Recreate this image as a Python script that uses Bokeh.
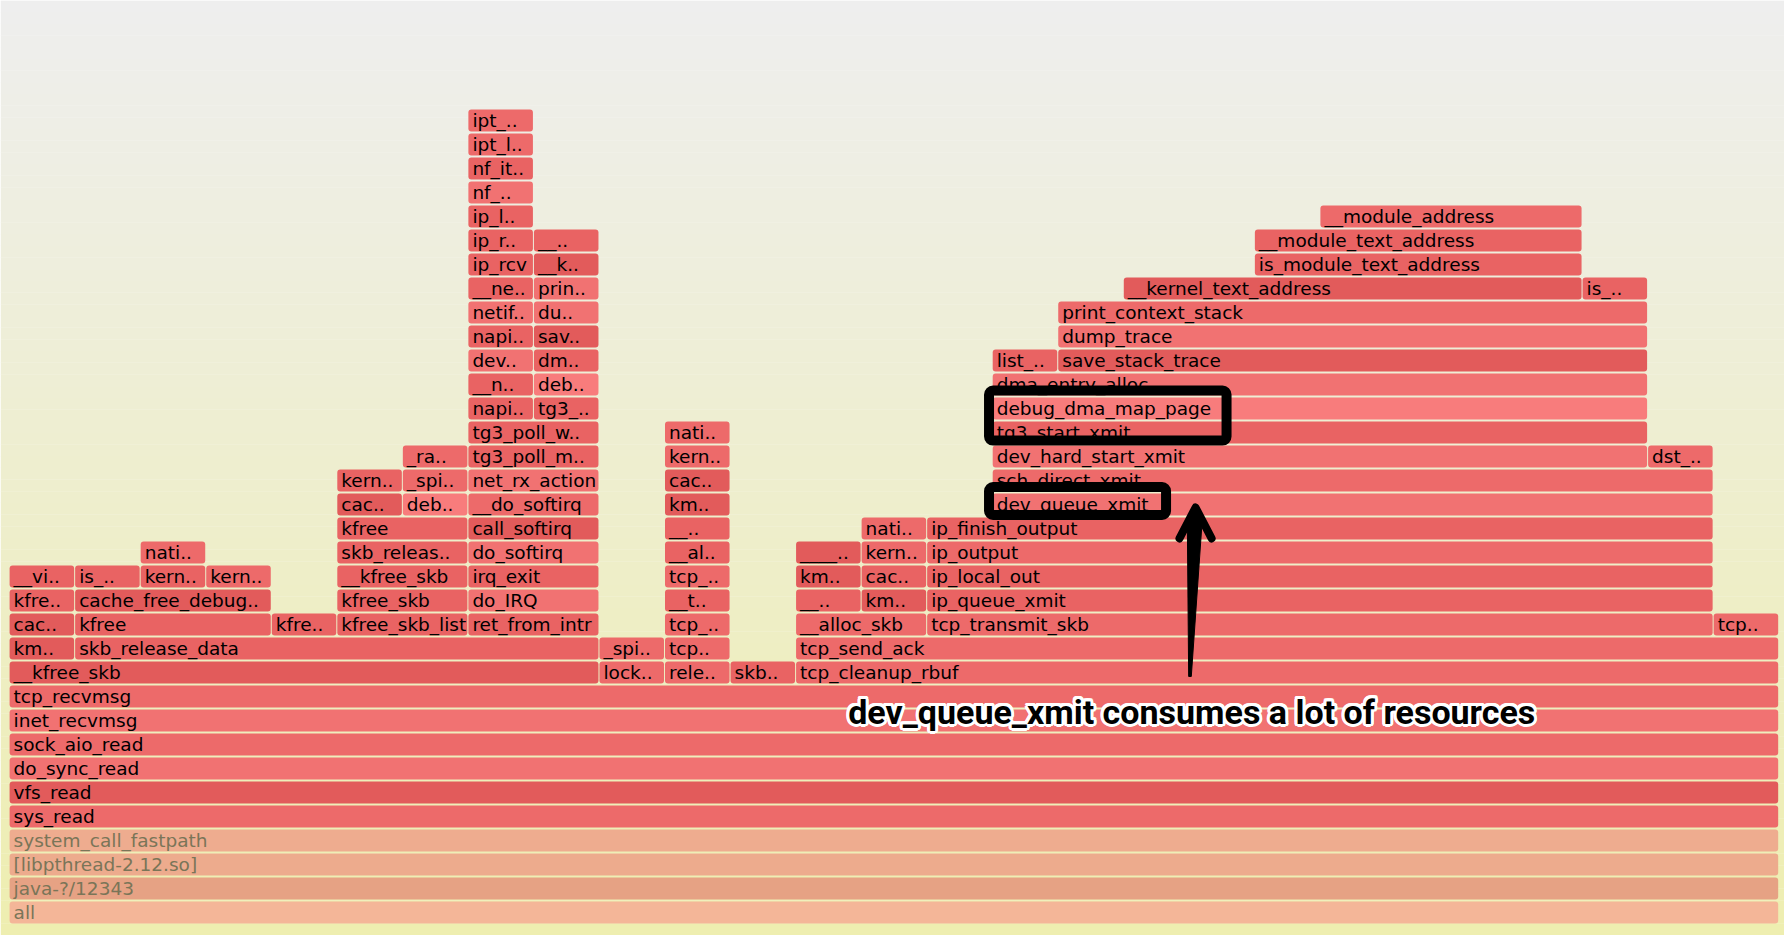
import numpy as np
from bokeh.core.properties import value
from bokeh.embed import file_html
from bokeh.models import ColumnDataSource, Range1d
from bokeh.plotting import figure
from bokeh.resources import INLINE

# flame graph frames: name, stack depth, first sample, number of samples
frame_name = [
    "all", "java-?/12343", "[libpthread-2.12.so]", "system_call_fastpath",
    "sys_read", "vfs_read", "do_sync_read", "sock_aio_read", "inet_recvmsg", "tcp_recvmsg",
    "__kfree_skb", "lock..", "rele..", "skb..", "tcp_cleanup_rbuf",
    "km..", "skb_release_data", "_spi..", "tcp..", "tcp_send_ack",
    "cac..", "kfree", "kfre..", "kfree_skb_list", "ret_from_intr", "tcp_..", "__alloc_skb", "tcp_transmit_skb", "tcp..",
    "kfre..", "cache_free_debug..", "kfree_skb", "do_IRQ", "__t..", "__..", "km..", "ip_queue_xmit",
    "__vi..", "is_..", "kern..", "kern..", "__kfree_skb", "irq_exit", "tcp_..", "km..", "cac..", "ip_local_out",
    "nati..", "skb_releas..", "do_softirq", "__al..", "____..", "kern..", "ip_output",
    "kfree", "call_softirq", "__..", "nati..", "ip_finish_output",
    "cac..", "deb..", "__do_softirq", "km..", "dev_queue_xmit",
    "kern..", "_spi..", "net_rx_action", "cac..", "sch_direct_xmit",
    "_ra..", "tg3_poll_m..", "kern..", "dev_hard_start_xmit", "dst_..",
    "tg3_poll_w..", "nati..", "tg3_start_xmit",
    "napi..", "tg3_..", "debug_dma_map_page",
    "__n..", "deb..", "dma_entry_alloc",
    "dev..", "dm..", "list_..", "save_stack_trace",
    "napi..", "sav..", "dump_trace",
    "netif..", "du..", "print_context_stack",
    "__ne..", "prin..", "__kernel_text_address", "is_..",
    "ip_rcv", "__k..", "is_module_text_address",
    "ip_r..", "__..", "__module_text_address",
    "ip_l..", "__module_address",
    "nf_..", "nf_it..", "ipt_l..", "ipt_..",
]
frame_depth = [
    0, 1, 2, 3, 4, 5, 6, 7, 8, 9,
    10, 10, 10, 10, 10,
    11, 11, 11, 11, 11,
    12, 12, 12, 12, 12, 12, 12, 12, 12,
    13, 13, 13, 13, 13, 13, 13, 13,
    14, 14, 14, 14, 14, 14, 14, 14, 14, 14,
    15, 15, 15, 15, 15, 15, 15,
    16, 16, 16, 16, 16,
    17, 17, 17, 17, 17,
    18, 18, 18, 18, 18,
    19, 19, 19, 19, 19,
    20, 20, 20,
    21, 21, 21,
    22, 22, 22,
    23, 23, 23, 23,
    24, 24, 24,
    25, 25, 25,
    26, 26, 26, 26,
    27, 27, 27,
    28, 28, 28,
    29, 29,
    30, 31, 32, 33,
]
frame_start = [
    0, 0, 0, 0, 0, 0, 0, 0, 0, 0,
    0, 9, 10, 11, 12,
    0, 1, 9, 10, 12,
    0, 1, 4, 5, 7, 10, 12, 14, 26,
    0, 1, 5, 7, 10, 12, 13, 14,
    0, 1, 2, 3, 5, 7, 10, 12, 13, 14,
    2, 5, 7, 10, 12, 13, 14,
    5, 7, 10, 13, 14,
    5, 6, 7, 10, 15,
    5, 6, 7, 10, 15,
    6, 7, 10, 15, 25,
    7, 10, 15,
    7, 8, 15,
    7, 8, 15,
    7, 8, 15, 16,
    7, 8, 16,
    7, 8, 16,
    7, 8, 17, 24,
    7, 8, 19,
    7, 8, 19,
    7, 20,
    7, 7, 7, 7,
]
frame_samples = [
    27, 27, 27, 27, 27, 27, 27, 27, 27, 27,
    9, 1, 1, 1, 15,
    1, 8, 1, 1, 15,
    1, 3, 1, 2, 2, 1, 2, 12, 1,
    1, 3, 2, 2, 1, 1, 1, 12,
    1, 1, 1, 1, 2, 2, 1, 1, 1, 12,
    1, 2, 2, 1, 1, 1, 12,
    2, 2, 1, 1, 12,
    1, 1, 2, 1, 11,
    1, 1, 2, 1, 11,
    1, 2, 1, 10, 1,
    2, 1, 10,
    1, 1, 10,
    1, 1, 10,
    1, 1, 1, 9,
    1, 1, 9,
    1, 1, 9,
    1, 1, 7, 1,
    1, 1, 5,
    1, 1, 5,
    1, 4,
    1, 1, 1, 1,
]

# fill colours, one per frame (random-looking warm shades as in the picture)
D, M, N, L, P = "#e25b5b", "#e96363", "#ed6a6a", "#f17272", "#f87c7c"
frame_color = [
    "#f4b698", "#e6a284", "#edab8d", "#eeac8f", N, D, L, N, L, N,
    D, N, N, M, N,
    D, M, N, N, N,
    D, M, M, M, M, N, N, N, N,
    M, D, M, L, M, M, D, M,
    M, M, M, N, M, M, N, D, M, M,
    N, M, L, M, D, N, N,
    M, D, M, N, M,
    D, P, N, D, L,
    M, N, L, D, N,
    N, M, N, L, N,
    M, N, M,
    M, M, P,
    M, P, L,
    L, M, M, D,
    M, D, L,
    L, L, N,
    M, L, D, M,
    M, D, M,
    M, M, M,
    M, N,
    L, M, N, N,
]
label_color = ["#7a7558"] * 4 + ["black"] * (len(frame_name) - 4)

note_text = "dev_queue_xmit consumes a lot of resources"

W, H = 1784, 935
PX = 65.54          # pixels per sample
ROW = 24.0          # pixels per stack level
GAP = 1.0 / PX

depth = np.array(frame_depth, dtype=float)
start = np.array(frame_start, dtype=float)
samples = np.array(frame_samples, dtype=float)

src = ColumnDataSource(data=dict(
    name=frame_name, left=start, right=start + samples - GAP,
    bottom=depth, top=depth + 22 / ROW,
    tx=start + 4 / PX, ty=depth + 11 / ROW,
    fill=frame_color, tcolor=label_color,
))

x0 = -9.1 / PX
y0 = -12 / ROW
p = figure(width=W, height=H, output_backend="svg", toolbar_location=None,
           x_range=Range1d(x0, x0 + W / PX), y_range=Range1d(y0, y0 + H / ROW),
           min_border=0, outline_line_color=None)
p.axis.visible = False
p.grid.visible = False

# background gradient, drawn as thin bands
nb = 80
edges = np.linspace(y0, y0 + H / ROW, nb + 1)
c_bot = np.array([0xee, 0xee, 0xb0])
c_top = np.array([0xee, 0xee, 0xee])
band_cols = []
for i in range(nb):
    t = (i + 0.5) / nb
    c = (c_bot * (1 - t) + c_top * t).round().astype(int)
    band_cols.append("#%02x%02x%02x" % tuple(c))
p.quad(left=x0, right=x0 + W / PX, bottom=edges[:-1], top=edges[1:] + 0.01,
       color=band_cols, line_color=None)

p.quad(left="left", right="right", bottom="bottom", top="top", source=src,
       fill_color="fill", line_color=None, border_radius=3)
p.text(x="tx", y="ty", text="name", source=src, text_color="tcolor",
       text_font=value("DejaVu Sans"), text_font_size="18.5px",
       text_baseline="middle", text_align="left")

# highlight boxes around the interesting frames
dy = 2 / ROW
p.quad(left=[14.944, 14.944], right=[18.568, 17.645],
       bottom=[20.04 + dy, 16.94 + dy], top=[22.125 + dy, 18.10 + dy],
       fill_color=None, line_color="black", line_width=10, border_radius=4)

# arrow pointing at dev_queue_xmit
p.patch(x=[17.99, 18.03, 18.19, 18.095, 17.97],
        y=[10.21 + dy, 10.21 + dy, 16.46 + dy, 17.3 + dy, 16.46 + dy],
        color="black", line_color="black", line_width=1)
p.line(x=[17.85, 18.095, 18.34], y=[15.96 + dy, 17.25 + dy, 15.96 + dy],
       line_color="black", line_width=8, line_cap="round", line_join="round")

# caption with a white halo
note_x, note_y = 12.795, 8.83
ang = np.linspace(0, 2 * np.pi, 16, endpoint=False)
for a in ang:
    p.text(x=[note_x], y=[note_y], text=[note_text], text_color="white",
           x_offset=3 * np.cos(a), y_offset=3 * np.sin(a),
           text_font=value("Roboto"), text_font_size="34px",
           text_font_style="bold", text_baseline="alphabetic", text_align="left")
p.text(x=[note_x], y=[note_y], text=[note_text], text_color="black",
       text_font=value("Roboto"), text_font_size="34px",
       text_font_style="bold", text_baseline="alphabetic", text_align="left")

open("out.html", "w").write(file_html(p, INLINE))
